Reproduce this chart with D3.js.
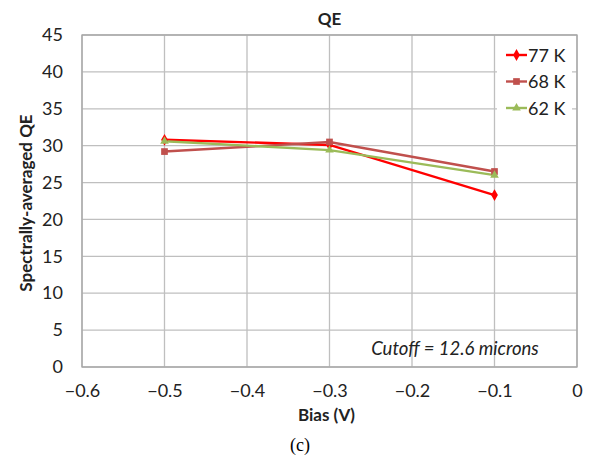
<!DOCTYPE html>
<html><head><meta charset="utf-8">
<script src="https://cdn.jsdelivr.net/npm/d3@7"></script>
<style>body{margin:0;background:#fff}svg{display:block}</style>
</head><body>
<svg id="c" width="592" height="468"></svg>
<script>
const biasValues = [-0.5, -0.3, -0.1];
const qe77 = [30.8, 30.1, 23.3];
const qe68 = [29.2, 30.5, 26.5];
const qe62 = [30.6, 29.4, 26.0];
const seriesNames = ["77 K", "68 K", "62 K"];
const xTicks = [-0.6, -0.5, -0.4, -0.3, -0.2, -0.1, 0];
const yTicks = [0, 5, 10, 15, 20, 25, 30, 35, 40, 45];

const series = [
  {name: seriesNames[0], values: qe77, color: "#FF0000", sym: d3.symbolDiamond, size: 40},
  {name: seriesNames[1], values: qe68, color: "#C0504D", sym: d3.symbolSquare, size: 45},
  {name: seriesNames[2], values: qe62, color: "#9BBB59", sym: d3.symbolTriangle, size: 32}
];

const svg = d3.select("#c");
const font = "Lato, 'Open Sans', sans-serif";
const L = 82, R = 577, T = 35, B = 367;
const x = d3.scaleLinear().domain([-0.6, 0]).range([L, R]);
const y = d3.scaleLinear().domain([0, 45]).range([B, T]);

// gridlines
svg.append("g").selectAll("line.h").data(yTicks).join("line")
  .attr("x1", L).attr("x2", R).attr("y1", d => y(d)).attr("y2", d => y(d))
  .attr("stroke", "#BFBFBF").attr("stroke-width", 1.3);
svg.append("g").selectAll("line.v").data(xTicks).join("line")
  .attr("x1", d => x(d)).attr("x2", d => x(d)).attr("y1", T).attr("y2", B)
  .attr("stroke", "#BFBFBF").attr("stroke-width", 1.3);
svg.append("rect").attr("x", L).attr("y", T).attr("width", R - L).attr("height", B - T)
  .attr("fill", "none").attr("stroke", "#A6A6A6").attr("stroke-width", 1.3);

// axes (labels only)
const xAxis = d3.axisBottom(x).tickValues(xTicks).tickSize(0).tickPadding(17)
  .tickFormat(d => d === 0 ? "0" : d3.format(".1f")(d).replace("-", "\u2212"));
const gx = svg.append("g").attr("transform", `translate(0,${B})`).call(xAxis);
gx.select(".domain").remove();
gx.selectAll("text").attr("font-family", font).attr("font-size", 18).attr("fill", "#222");

const yAxis = d3.axisLeft(y).tickValues(yTicks).tickSize(0).tickPadding(19);
const gy = svg.append("g").attr("transform", `translate(${L},0)`).call(yAxis);
gy.select(".domain").remove();
gy.selectAll("text").attr("font-family", font).attr("font-size", 18).attr("fill", "#222");

// lines & markers
const line = d3.line().x((d, i) => x(biasValues[i])).y(d => y(d));
series.forEach(s => {
  svg.append("path").datum(s.values).attr("d", line)
    .attr("fill", "none").attr("stroke", s.color).attr("stroke-width", 2.4);
});
series.forEach(s => {
  svg.append("g").selectAll("path").data(s.values).join("path")
    .attr("d", d3.symbol().type(s.sym).size(s.size))
    .attr("transform", (d, i) => `translate(${x(biasValues[i])},${y(d)})`)
    .attr("fill", s.color);
});

// legend
const lg = svg.append("g");
lg.append("rect").attr("x", 497).attr("y", 40).attr("width", 75).attr("height", 82).attr("fill", "#fff");
series.forEach((s, i) => {
  const yy = 55 + i * 26.5;
  lg.append("line").attr("x1", 506).attr("x2", 527).attr("y1", yy).attr("y2", yy)
    .attr("stroke", s.color).attr("stroke-width", 2.4);
  lg.append("path").attr("d", d3.symbol().type(s.sym).size(s.size)())
    .attr("transform", `translate(516.5,${yy})`).attr("fill", s.color);
  lg.append("text").attr("x", 528).attr("y", yy + 6.5).text(s.name)
    .attr("font-family", font).attr("font-size", 18).attr("fill", "#222");
});

// titles
svg.append("text").attr("x", (L + R) / 2).attr("y", 25).attr("text-anchor", "middle")
  .attr("font-family", font).attr("font-weight", "bold").attr("font-size", 17).attr("fill", "#222").text("QE");
svg.append("text").attr("x", (L + R) / 2 - 3).attr("y", 421).attr("text-anchor", "middle")
  .attr("font-family", font).attr("font-weight", "bold").attr("font-size", 17).attr("fill", "#222").text("Bias (V)");
svg.append("text").attr("transform", `translate(32,${(T + B) / 2 + 2}) rotate(-90)`).attr("text-anchor", "middle")
  .attr("font-family", font).attr("font-weight", "bold").attr("font-size", 17).attr("fill", "#222").text("Spectrally-averaged QE");
svg.append("text").attr("x", 455).attr("y", 355).attr("text-anchor", "middle")
  .attr("font-family", font).attr("font-style", "italic").attr("font-size", 18.5).attr("fill", "#222").text("Cutoff = 12.6 microns");
svg.append("text").attr("x", 300).attr("y", 451).attr("text-anchor", "middle")
  .attr("font-family", "'Liberation Serif', 'DejaVu Serif', serif").attr("font-size", 18).attr("fill", "#000").text("(c)");
</script>
</body></html>
